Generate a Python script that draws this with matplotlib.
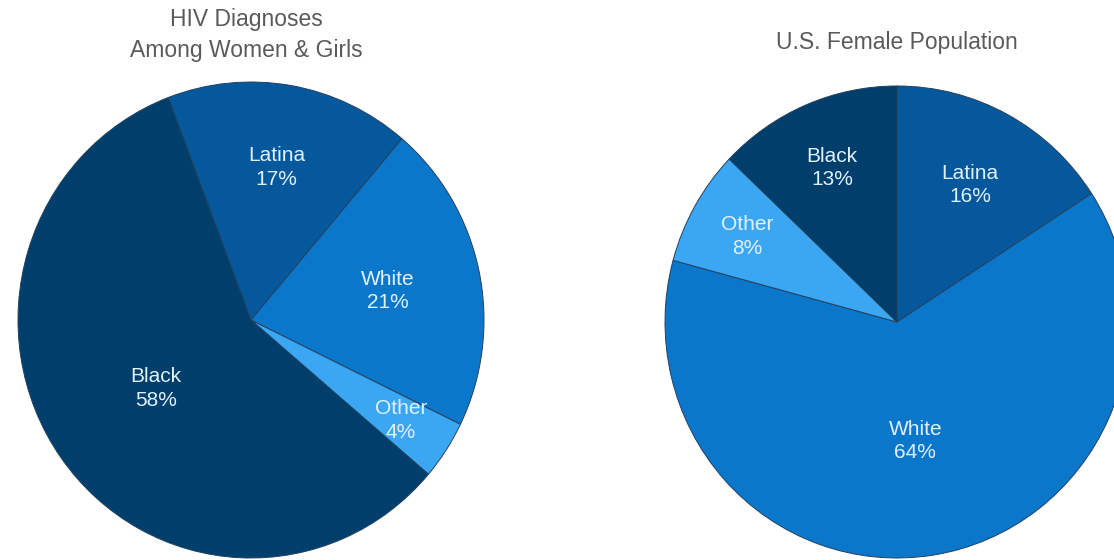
import matplotlib.pyplot as plt
import numpy as np

plt.rcParams['font.family'] = ['Liberation Sans', 'DejaVu Sans']

# HIV diagnoses among women & girls, by race/ethnicity (%)
hiv_groups = ['Latina', 'White', 'Other', 'Black']
hiv_share = [17, 21, 4, 58]

# U.S. female population, by race/ethnicity (%)
pop_groups = ['Latina', 'White', 'Other', 'Black']
pop_share = [16, 64, 8, 13]

colors = {
    'Black': '#003e6b',
    'Latina': '#06589c',
    'White': '#0a77cb',
    'Other': '#3ba7f3',
}
text_color = '#e2f1ff'
title_color = '#5a5a5a'


def draw_pie(ax, groups, shares, start, label_r):
    wedges, _ = ax.pie(shares, colors=[colors[g] for g in groups],
                       startangle=start, counterclock=False, radius=1,
                       wedgeprops={'edgecolor': '#23415f', 'linewidth': 0.7})
    for w, g, s in zip(wedges, groups, shares):
        mid = np.deg2rad((w.theta1 + w.theta2) / 2)
        r = label_r[g]
        ax.text(r * np.cos(mid), r * np.sin(mid), f'{g}\n{s}%',
                ha='center', va='center', color=text_color,
                fontsize=15, linespacing=1.3)
    # pies are drawn slightly narrower than tall
    ax.set_xlim(-1, 1)
    ax.set_ylim(-1, 1)
    ax.set_aspect('auto')
    ax.axis('off')


fig = plt.figure(figsize=(11.14, 5.6), dpi=100)

ax1 = fig.add_axes([18 / 1114, 2 / 560, 466 / 1114, 476 / 560])
draw_pie(ax1, hiv_groups, hiv_share, 110.8,
         {'Latina': 0.65, 'White': 0.60, 'Other': 0.77, 'Black': 0.50})

ax2 = fig.add_axes([665 / 1114, 2 / 560, 464 / 1114, 472 / 560])
draw_pie(ax2, pop_groups, pop_share, 90,
         {'Latina': 0.66, 'White': 0.51, 'Other': 0.74, 'Black': 0.71})

fig.text(246 / 1114, 1 - 35 / 560, 'HIV Diagnoses\nAmong Women & Girls',
         ha='center', va='center', fontsize=16.5, color=title_color,
         linespacing=1.4)
fig.text(897 / 1114, 1 - 42 / 560, 'U.S. Female Population',
         ha='center', va='center', fontsize=16.5, color=title_color)

fig.savefig('out.png', dpi=100, facecolor='white')
